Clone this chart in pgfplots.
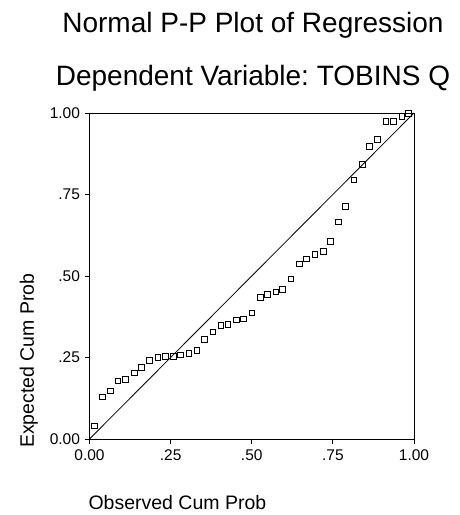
\documentclass[border=0pt]{standalone}
\usepackage{pgfplots}
\pgfplotsset{compat=1.18}
\usepackage{fontspec}
\setmainfont{Liberation Sans}
\frenchspacing
\begin{document}
\begin{tikzpicture}[x=1pt,y=1pt]
\path[use as bounding box] (0,0) rectangle (459,515);
\begin{axis}[
  at={(89.5pt,76pt)}, anchor=south west,
  scale only axis, width=324.5pt, height=326pt,
  xmin=0, xmax=1, ymin=0, ymax=1,
  axis line style={line width=0.9pt},
  xtick={0,0.25,0.5,0.75,1}, ytick={0,0.25,0.5,0.75,1},
  xticklabels={0.00,.25,.50,.75,1.00},
  yticklabels={0.00,.25,.50,.75,1.00},
  tick align=outside, major tick length=5pt,
  xtick pos=bottom, ytick pos=left,
  tick style={black, line width=0.9pt},
  /pgf/number format/assume math mode=true,
  ticklabel style={font=\fontsize{15.5}{18}\selectfont},
  xticklabel style={yshift=-2pt},
  yticklabel style={xshift=-1pt},
  clip=false,
]
\addplot[black, line width=0.8pt] coordinates {(0,0) (1,1)};
\addplot[only marks, mark=square, mark size=2.8pt, mark options={black, line width=0.8pt}] coordinates {
(0.016,0.040)
(0.039,0.129)
(0.064,0.147)
(0.087,0.178)
(0.111,0.182)
(0.138,0.203)
(0.160,0.220)
(0.185,0.242)
(0.211,0.250)
(0.234,0.253)
(0.259,0.253)
(0.281,0.258)
(0.306,0.263)
(0.331,0.271)
(0.354,0.306)
(0.380,0.328)
(0.405,0.349)
(0.427,0.352)
(0.452,0.365)
(0.474,0.369)
(0.501,0.387)
(0.526,0.434)
(0.548,0.443)
(0.574,0.451)
(0.595,0.459)
(0.621,0.491)
(0.647,0.537)
(0.669,0.553)
(0.695,0.567)
(0.720,0.575)
(0.742,0.606)
(0.767,0.666)
(0.788,0.713)
(0.815,0.795)
(0.841,0.842)
(0.862,0.897)
(0.888,0.919)
(0.914,0.974)
(0.936,0.974)
(0.963,0.990)
(0.983,0.998)
};
\end{axis}
\node[anchor=base, inner sep=0pt, font=\fontsize{28}{32}\selectfont] at (253,482.5) {Normal P-P Plot of Regression};
\node[anchor=base, inner sep=0pt, font=\fontsize{28}{32}\selectfont] at (253,429) {Dependent Variable: TOBINS Q};
\node[anchor=base west, inner sep=0pt, font=\fontsize{19.5}{22}\selectfont] at (88.3,5.7) {Observed Cum Prob};
\node[anchor=base west, inner sep=0pt, rotate=90, font=\fontsize{19.5}{22}\selectfont] at (34,67) {Expected Cum Prob};
\end{tikzpicture}
\end{document}
